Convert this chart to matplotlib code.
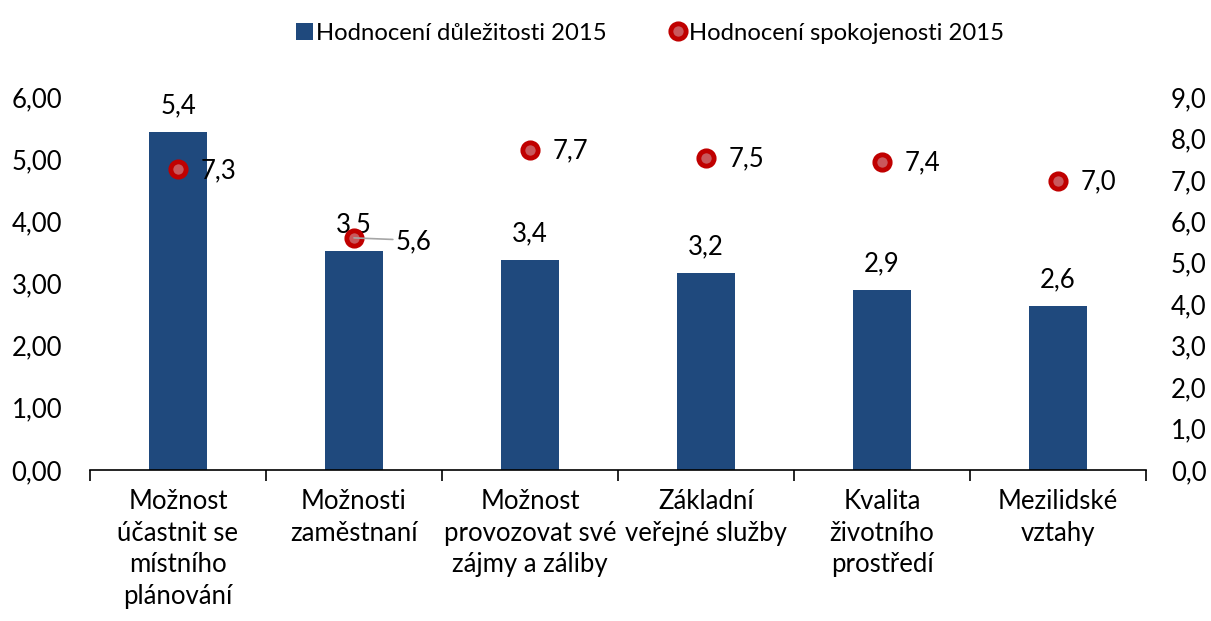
import matplotlib
matplotlib.use("Agg")
import matplotlib.pyplot as plt
from matplotlib.lines import Line2D
from matplotlib.patches import Patch
import numpy as np

plt.rcParams["font.family"] = ["Lato", "DejaVu Sans"]
plt.rcParams["font.size"] = 18.5

# data
categories = [
    "Možnost\núčastnit se\nmístního\nplánování",
    "Možnosti\nzaměstnaní",
    "Možnost\nprovozovat své\nzájmy a záliby",
    "Základní\nveřejné služby",
    "Kvalita\nživotního\nprostředí",
    "Mezilidské\nvztahy",
]
importance = [5.44, 3.52, 3.38, 3.17, 2.89, 2.64]
satisfaction = [7.26, 5.60, 7.73, 7.54, 7.44, 6.98]
left_ticks = [0, 1, 2, 3, 4, 5, 6]
right_ticks = [0, 1, 2, 3, 4, 5, 6, 7, 8, 9]

bar_color = "#1f497d"
dot_edge = "#c00000"
dot_face = "#c9585c"

fig = plt.figure(figsize=(12.11, 6.21), dpi=100)
ax = fig.add_axes([0.0743, 0.2432, 0.872, 0.6006])
ax2 = ax.twinx()

x = np.arange(len(categories))
ax.bar(x, importance, width=0.33, color=bar_color, zorder=2)
ax.set_xlim(-0.5, len(categories) - 0.5)
ax.set_ylim(0, 6)
ax.set_yticks(left_ticks)
ax.set_yticklabels([f"{v:.2f}".replace(".", ",") for v in left_ticks])
ax2.set_ylim(0, 9)
ax2.set_yticks(right_ticks)
ax2.set_yticklabels([f"{v:.1f}".replace(".", ",") for v in right_ticks])

for a in (ax, ax2):
    for s in ("top", "left", "right"):
        a.spines[s].set_visible(False)
ax.tick_params(axis="y", length=0, pad=20)
ax2.tick_params(axis="y", length=0, pad=18)
ax2.spines["bottom"].set_visible(False)
ax.spines["bottom"].set_color("black")
ax.spines["bottom"].set_linewidth(1.2)

# category boundaries as ticks, labels centered
ax.set_xticks(np.arange(len(categories) + 1) - 0.5)
ax.set_xticklabels([])
ax.tick_params(axis="x", length=8, width=1.2, direction="out")
ax.set_xticks(x, minor=True)
ax.set_xticklabels(categories, minor=True, linespacing=1.32)
ax.tick_params(axis="x", which="minor", length=0, pad=14)

ax2.plot(x, satisfaction, linestyle="none", marker="o", markersize=11,
         markerfacecolor=dot_face, markeredgecolor=dot_edge,
         markeredgewidth=3.5, zorder=3)

# bar labels
for xi, v in zip(x, importance):
    ax.annotate(f"{v:.1f}".replace(".", ","), (xi, v), xytext=(0, 19),
                textcoords="offset points", ha="center", va="center")

# point labels
for i, (xi, v) in enumerate(zip(x, satisfaction)):
    txt = f"{v:.1f}".replace(".", ",")
    if i == 1:
        ax2.annotate(txt, (xi, v), xytext=(30, -3), textcoords="offset points",
                     ha="left", va="center",
                     arrowprops=dict(arrowstyle="-", color="#a6a6a6", lw=1.2,
                                     shrinkA=0, shrinkB=0,
                                     relpos=(0, 0.6)))
    else:
        ax2.annotate(txt, (xi, v), xytext=(16, -1), textcoords="offset points",
                     ha="left", va="center")

handles = [
    Patch(facecolor=bar_color, edgecolor="none"),
    Line2D([], [], linestyle="none", marker="o", markersize=11,
           markerfacecolor=dot_face, markeredgecolor=dot_edge, markeredgewidth=3.5),
]
fig.legend(handles, ["Hodnocení důležitosti 2015", "Hodnocení spokojenosti 2015"],
           loc="upper center", bbox_to_anchor=(0.537, 0.998), ncol=2, frameon=False,
           fontsize=17.2, handlelength=0.7, handleheight=0.75, handletextpad=0.15,
           columnspacing=2.6)

fig.savefig("out.png", dpi=100)
